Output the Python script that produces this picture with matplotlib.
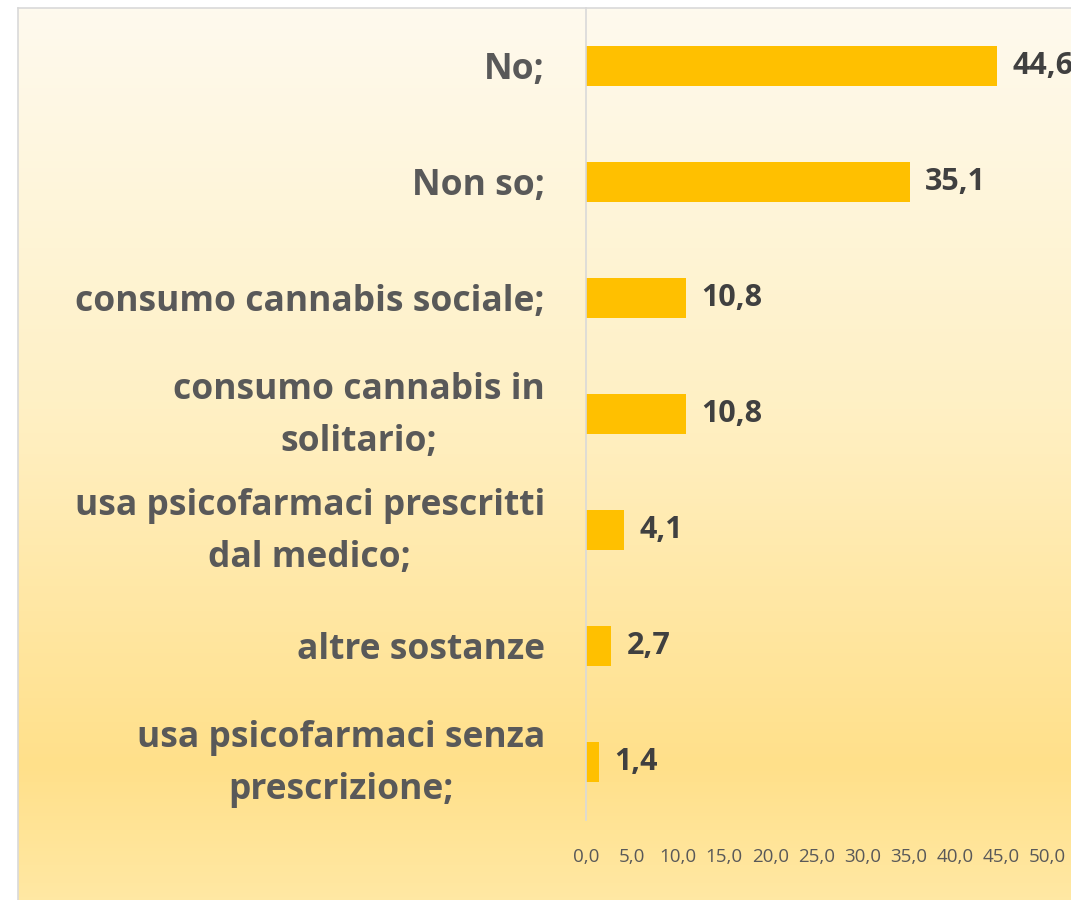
import matplotlib.pyplot as plt
import matplotlib.transforms as mtransforms
import numpy as np
from matplotlib.colors import LinearSegmentedColormap

categories = [
    "No;",
    "Non so;",
    "consumo cannabis sociale;",
    "consumo cannabis in\nsolitario;",
    "usa psicofarmaci prescritti\ndal medico;",
    "altre sostanze",
    "usa psicofarmaci senza\nprescrizione;",
]
values = [44.6, 35.1, 10.8, 10.8, 4.1, 2.7, 1.4]
xticks = [0, 5, 10, 15, 20, 25, 30, 35, 40, 45, 50]

W, H = 1071, 900
fig = plt.figure(figsize=(W / 100, H / 100), dpi=100)
fig.patch.set_facecolor("white")

# chart area background with vertical gradient
bg = fig.add_axes([18 / W, 0, 1 - 18 / W, (H - 8) / H], zorder=0)
cmap = LinearSegmentedColormap.from_list(
    "bg", [(0.0, "#FFE8A3"), (0.15, "#FFE08A"), (0.55, "#FFF0C4"), (1.0, "#FEFAEE")])
grad = np.linspace(0, 1, 256).reshape(-1, 1)
bg.imshow(grad, aspect="auto", cmap=cmap, origin="lower", extent=[0, 1, 0, 1])
bg.set_xlim(0, 1)
bg.set_ylim(0, 1)
bg.set_xticks([])
bg.set_yticks([])
for side in ["right", "bottom"]:
    bg.spines[side].set_visible(False)
for side in ["left", "top"]:
    bg.spines[side].set_color("#D9D9D9")
    bg.spines[side].set_linewidth(1.2)

ax = fig.add_axes([586 / W, 80 / H, (1047 - 586) / W, (820 - 8) / H], zorder=1)
ax.patch.set_alpha(0)

y = np.arange(len(categories))
ax.barh(y, values, height=0.35, color="#FFC000", zorder=2)
ax.set_ylim(len(categories) - 0.5, -0.5)
ax.set_xlim(0, 50)

for yi, v in zip(y, values):
    ax.text(v + 1.7, yi, f"{v:.1f}".replace(".", ","), va="center", ha="left",
            fontsize=22, fontweight="bold", color="#404040", family="Open Sans",
            clip_on=False)

# category labels, drawn as text so two-line ones can be nudged up a bit
ax.set_yticks([])
for yi, lab in zip(y, categories):
    dy = 0.11 if "\n" in lab else 0.01
    tr = ax.get_yaxis_transform() + mtransforms.ScaledTranslation(
        -0.41, dy, fig.dpi_scale_trans)
    ax.text(0, yi, lab, transform=tr, ha="right", va="center_baseline",
            multialignment="center", linespacing=1.6, fontsize=25.5,
            fontweight="bold", color="#595959", family="Open Sans")

ax.set_xticks(xticks)
ax.set_xticklabels([f"{t:.1f}".replace(".", ",") for t in xticks], fontsize=13.5,
                   color="#595959", family="Open Sans")
ax.tick_params(axis="x", length=0, pad=20)

for side in ["top", "right", "bottom"]:
    ax.spines[side].set_visible(False)
ax.spines["left"].set_color("#D9D9D9")
ax.spines["left"].set_linewidth(1.2)

fig.savefig("out.png", dpi=100)
